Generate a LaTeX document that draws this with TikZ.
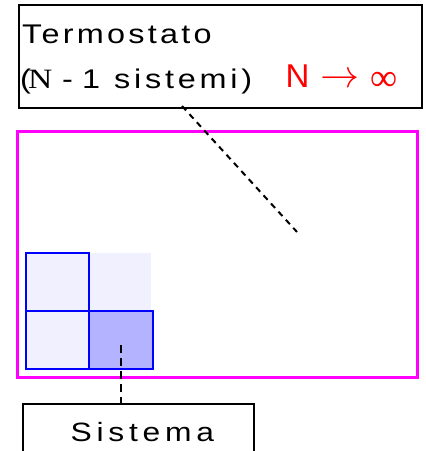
\documentclass[tikz,border=0pt]{standalone}
\usepackage{graphicx}
\usepackage{fontspec}
\setmainfont{Liberation Sans}
\newfontfamily\serifN[FakeStretch=1.2]{Liberation Serif}
\newfontfamily\symfont{Liberation Serif}
\newfontfamily\wideA[FakeStretch=1.2]{Liberation Sans}
\newfontfamily\spacedA[FakeStretch=1.2,LetterSpace=12]{Liberation Sans}
\newfontfamily\spacedB[FakeStretch=1.2,LetterSpace=14]{Liberation Sans}
\newfontfamily\spacedS[FakeStretch=1.2,LetterSpace=18]{Liberation Sans}
\definecolor{mag}{HTML}{FF00FF}
\definecolor{cellblue}{HTML}{0000FF}
\definecolor{celllight}{HTML}{F0F0FF}
\definecolor{celldark}{HTML}{B3B3FF}
\begin{document}
\begin{tikzpicture}[x=1pt,y=-1pt,
  labelbox/.style={draw=black, line width=2pt, fill=white, inner sep=0pt, anchor=north west},
  txt/.style={inner sep=0pt, anchor=base west},
  cell/.style={draw=cellblue, line width=2pt, inner sep=0pt, minimum width=63pt, minimum height=58pt, anchor=north west},
  dashline/.style={black, line width=2pt, dash pattern=on 6pt off 5pt}]
\clip (0,0) rectangle (426,451);
\useasboundingbox (0,0) rectangle (426,451);
\fill[white] (0,0) rectangle (426,451);
% thermostat box
\node[labelbox, minimum width=403pt, minimum height=103pt] (termo) at (18,4) {};
\node[txt, font=\spacedA\fontsize{27}{30}\selectfont] (t1) at (22,43) {Termostato};
\node[txt, font=\wideA\fontsize{27}{30}\selectfont] (p1) at (20,88) {(};
\node[txt, font=\serifN\fontsize{28}{30}\selectfont] (nn) at (28,88) {N};
\node[txt, font=\wideA\fontsize{27}{30}\selectfont] (mi) at (62,88) {-};
\node[txt, font=\wideA\fontsize{27}{30}\selectfont] (one) at (82,88) {1};
\node[txt, font=\spacedB\fontsize{27}{30}\selectfont] (sis) at (114,88) {sistemi)};
\node[txt, text=red, font=\fontsize{33}{36}\selectfont] (rn) at (285.5,87) {N};
\node[inner sep=0pt, anchor=base, text=red] (arr) at (339.5,87.7) {\scalebox{3.9}{$\rightarrow$}};
\node[inner sep=0pt, anchor=base, text=red, font=\symfont\fontsize{38}{40}\selectfont] (inf) at (384.5,90) {∞};
% bath
\node[draw=mag, line width=3pt, inner sep=0pt, minimum width=400.5pt, minimum height=246pt, anchor=north west] (bath) at (15.5,129.5) {};
% cells
\node[fill=celllight, inner sep=0pt, minimum width=63pt, minimum height=57pt, anchor=north west] (c12) at (88,253) {};
\node[cell, fill=celllight] (c11) at (25,252) {};
\node[cell, fill=celllight] (c21) at (25,310) {};
\node[cell, fill=celldark, minimum width=64pt] (c22) at (88,310) {};
% system box
\node[labelbox, minimum width=231pt, minimum height=70pt] (sys) at (22,403) {};
\node[txt, font=\spacedS\fontsize{26.5}{30}\selectfont] (st) at (70.4,441) {Sistema};
% connectors
\coordinate (a1) at (182,106);
\coordinate (a2) at (297,232);
\draw[dashline] (a1) -- (a2);
\coordinate (b1) at (121,345);
\coordinate (b2) at (121,403);
\draw[dashline, dash pattern=on 8pt off 5pt] (b1) -- (b2);
\end{tikzpicture}
\end{document}
